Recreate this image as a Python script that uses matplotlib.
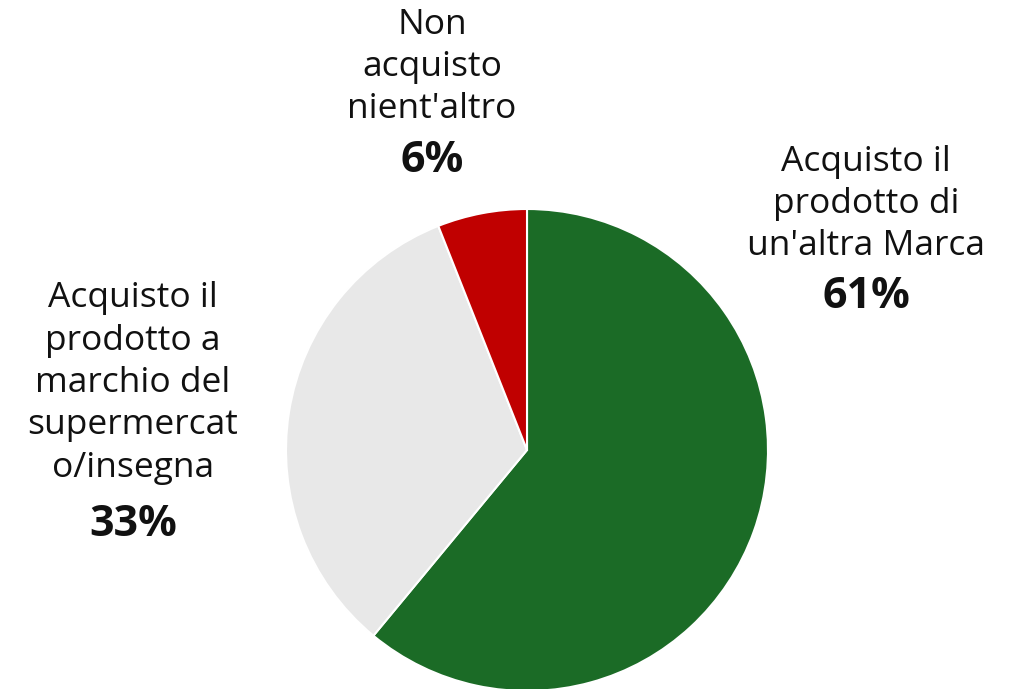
import matplotlib.pyplot as plt

# data
labels = ['Acquisto il\nprodotto di\nun\'altra Marca',
          'Acquisto il\nprodotto a\nmarchio del\nsupermercat\no/insegna',
          'Non\nacquisto\nnient\'altro']
values = [61, 33, 6]
colors = ['#1B6B26', '#E8E8E8', '#C00000']

W, H = 1017, 689

fig = plt.figure(figsize=(W / 100, H / 100), dpi=100)
ax = fig.add_axes([0, 0, 1, 1])

ax.pie(values, colors=colors, startangle=90, counterclock=False,
       center=(527, H - 450), radius=241, frame=True,
       wedgeprops=dict(edgecolor='white', linewidth=1.5))

# label positions (pixels from top-left): text centre, percent centre
label_pos = [(866, 204, 297), (133, 383, 525), (432, 67, 160)]

for lab, val, (x, y_txt, y_pct) in zip(labels, values, label_pos):
    ax.text(x, H - y_txt, lab, ha='center', va='center', fontsize=25.5,
            family='Open Sans', linespacing=1.32, color='#111111')
    ax.text(x, H - y_pct, '%d%%' % val, ha='center', va='center',
            fontsize=31, family='Open Sans', fontweight='bold', color='#111111')

ax.set_xlim(0, W)
ax.set_ylim(0, H)
ax.set_aspect('equal')
ax.axis('off')

fig.savefig('out.png', dpi=100)
